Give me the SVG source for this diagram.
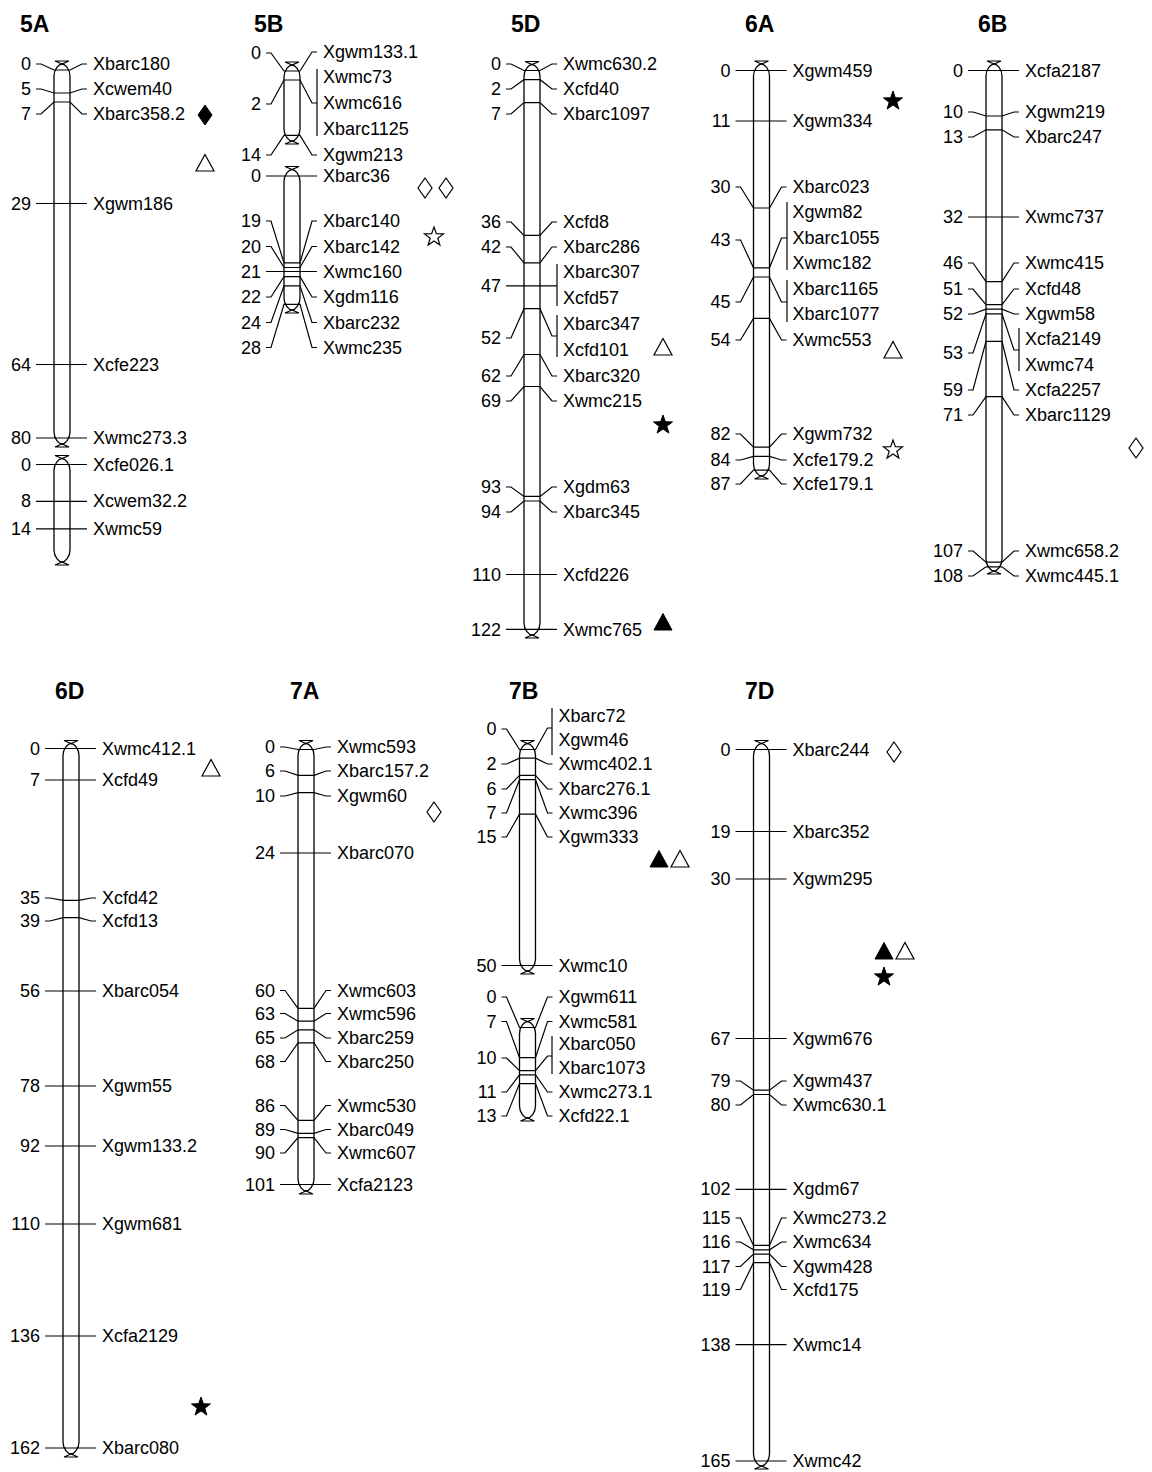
<svg xmlns="http://www.w3.org/2000/svg" xmlns:xlink="http://www.w3.org/1999/xlink" width="1152" height="1472" viewBox="0 0 1152 1472">
<style>
text{font-family:"Liberation Sans",Arial,sans-serif;font-size:18px;fill:#000;dominant-baseline:central}
.n{text-anchor:end}
.h{font-size:23px;font-weight:bold;dominant-baseline:auto}
.t{fill:#fff;stroke:#000;stroke-width:1.3}
.c{fill:none;stroke:#000;stroke-width:1.2}
.m polyline,.m line{fill:none;stroke:#000;stroke-width:1.2}
.o{fill:#fff;stroke:#000;stroke-width:1.2}
.f{fill:#000;stroke:#000;stroke-width:1}
</style>
<defs>
<polygon id="tri" points="0,-8.5 9,8 -9,8"/>
<polygon id="dia" points="0,-10 7,0 0,10 -7,0"/>
<polygon id="star" points="0,-10 2.35,-3.24 9.51,-3.09 3.8,1.24 5.88,8.09 0,4 -5.88,8.09 -3.8,1.24 -9.51,-3.09 -2.35,-3.24"/>
</defs>
<rect width="1152" height="1472" fill="#fff"/>

<g id="chr5A">
<text class="h" x="20" y="32">5A</text>
<path class="t" d="M54,76 C54,69 59,64 62,64 C65,64 70,69 70,76 L70,432 C70,439 65,444 62,444 C59,444 54,439 54,432 Z"/>
<path class="c" d="M62,64 L55,61 L69,61 Z M62,444 L55,447 L69,447 Z"/>
<path class="t" d="M54,470.5 C54,463.5 59,458.5 62,458.5 C65,458.5 70,463.5 70,470.5 L70,550 C70,557 65,562 62,562 C59,562 54,557 54,550 Z"/>
<path class="c" d="M62,458.5 L55,455.5 L69,455.5 Z M62,562 L55,565 L69,565 Z"/>
<g class="m">
<polyline points="36,64 41,64 54,70 70,70 82,64 87,64"/>
<polyline points="36,89 41,89 54,93 70,93 82,89 87,89"/>
<polyline points="36,114 41,114 54,102 70,102 82,114 87,114"/>
<line x1="36" y1="203.5" x2="87" y2="203.5"/>
<line x1="36" y1="364.5" x2="87" y2="364.5"/>
<line x1="36" y1="438" x2="87" y2="438"/>
<line x1="36" y1="464.5" x2="87" y2="464.5"/>
<line x1="36" y1="501.3" x2="87" y2="501.3"/>
<line x1="36" y1="528.9" x2="87" y2="528.9"/>
</g>
<text class="n" x="31" y="64">0</text><text x="93" y="64">Xbarc180</text>
<text class="n" x="31" y="89">5</text><text x="93" y="89">Xcwem40</text>
<text class="n" x="31" y="114">7</text><text x="93" y="114">Xbarc358.2</text>
<text class="n" x="31" y="203.5">29</text><text x="93" y="203.5">Xgwm186</text>
<text class="n" x="31" y="364.5">64</text><text x="93" y="364.5">Xcfe223</text>
<text class="n" x="31" y="438">80</text><text x="93" y="438">Xwmc273.3</text>
<text class="n" x="31" y="465">0</text><text x="93" y="465">Xcfe026.1</text>
<text class="n" x="31" y="501.3">8</text><text x="93" y="501.3">Xcwem32.2</text>
<text class="n" x="31" y="529">14</text><text x="93" y="529">Xwmc59</text>
<use href="#dia" class="f" x="205" y="115"/>
<use href="#tri" class="o" x="205" y="163"/>
</g>

<g id="chr5B">
<text class="h" x="254" y="32">5B</text>
<path class="t" d="M284,77 C284,70 289,65 292,65 C295,65 300,70 300,77 L300,129 C300,136 295,141 292,141 C289,141 284,136 284,129 Z"/>
<path class="c" d="M292,65 L285,62 L299,62 Z M292,141 L285,144 L299,144 Z"/>
<path class="t" d="M284,181.5 C284,174.5 289,169.5 292,169.5 C295,169.5 300,174.5 300,181.5 L300,298 C300,305 295,310 292,310 C289,310 284,305 284,298 Z"/>
<path class="c" d="M292,169.5 L285,166.5 L299,166.5 Z M292,310 L285,313 L299,313 Z"/>
<g class="m">
<polyline points="266,53 271,53 284,71 300,71 312,52 317,52"/>
<polyline points="266,104 271,104 284,80 300,80 312,103 317,103"/>
<line x1="317" y1="69" x2="317" y2="136"/>
<polyline points="266,155 271,155 284,135.4 300,135.4 312,155 317,155"/>
<line x1="266" y1="176" x2="317" y2="176"/>
<polyline points="266,221 271,221 284,262.9 300,262.9 312,221 317,221"/>
<polyline points="266,246.5 271,246.5 284,267.5 300,267.5 312,246.5 317,246.5"/>
<line x1="266" y1="271.5" x2="317" y2="271.5"/>
<polyline points="266,297 271,297 284,276.7 300,276.7 312,297 317,297"/>
<polyline points="266,322.5 271,322.5 284,285.9 300,285.9 312,322.5 317,322.5"/>
<polyline points="266,347.5 271,347.5 284,304.3 300,304.3 312,347.5 317,347.5"/>
</g>
<text class="n" x="261" y="53">0</text><text x="323" y="52">Xgwm133.1</text>
<text x="323" y="77">Xwmc73</text>
<text class="n" x="261" y="104">2</text><text x="323" y="103">Xwmc616</text>
<text x="323" y="129">Xbarc1125</text>
<text class="n" x="261" y="155">14</text><text x="323" y="155">Xgwm213</text>
<text class="n" x="261" y="176">0</text><text x="323" y="176">Xbarc36</text>
<text class="n" x="261" y="221">19</text><text x="323" y="221">Xbarc140</text>
<text class="n" x="261" y="246.5">20</text><text x="323" y="246.5">Xbarc142</text>
<text class="n" x="261" y="271.5">21</text><text x="323" y="271.5">Xwmc160</text>
<text class="n" x="261" y="297">22</text><text x="323" y="297">Xgdm116</text>
<text class="n" x="261" y="322.5">24</text><text x="323" y="322.5">Xbarc232</text>
<text class="n" x="261" y="347.5">28</text><text x="323" y="347.5">Xwmc235</text>
<use href="#dia" class="o" x="425" y="188"/>
<use href="#dia" class="o" x="446" y="188"/>
<use href="#star" class="o" x="434" y="237"/>
</g>

<g id="chr5D">
<text class="h" x="511" y="32">5D</text>
<path class="t" d="M524,76.5 C524,69.5 529,64.5 532,64.5 C535,64.5 540,69.5 540,76.5 L540,623 C540,630 535,635 532,635 C529,635 524,630 524,623 Z"/>
<path class="c" d="M532,64.5 L525,61.5 L539,61.5 Z M532,635 L525,638 L539,638 Z"/>
<g class="m">
<polyline points="506,64 511,64 524,70.5 540,70.5 552,64 557,64"/>
<polyline points="506,89 511,89 524,79.7 540,79.7 552,89 557,89"/>
<polyline points="506,114 511,114 524,102.6 540,102.6 552,114 557,114"/>
<polyline points="506,222 511,222 524,235.4 540,235.4 552,222 557,222"/>
<polyline points="506,247 511,247 524,262.9 540,262.9 552,247 557,247"/>
<line x1="506" y1="285.8" x2="557" y2="285.8"/>
<line x1="557" y1="264" x2="557" y2="306"/>
<polyline points="506,338 511,338 524,308.7 540,308.7 552,336 557,336"/>
<line x1="557" y1="315" x2="557" y2="357"/>
<polyline points="506,376 511,376 524,354.5 540,354.5 552,376 557,376"/>
<polyline points="506,401 511,401 524,386.5 540,386.5 552,401 557,401"/>
<polyline points="506,487 511,487 524,496.4 540,496.4 552,487 557,487"/>
<polyline points="506,512 511,512 524,501 540,501 552,512 557,512"/>
<line x1="506" y1="574.5" x2="557" y2="574.5"/>
<line x1="506" y1="629.3" x2="557" y2="629.3"/>
</g>
<text class="n" x="501" y="64">0</text><text x="563" y="64">Xwmc630.2</text>
<text class="n" x="501" y="89">2</text><text x="563" y="89">Xcfd40</text>
<text class="n" x="501" y="114">7</text><text x="563" y="114">Xbarc1097</text>
<text class="n" x="501" y="222">36</text><text x="563" y="222">Xcfd8</text>
<text class="n" x="501" y="247">42</text><text x="563" y="247">Xbarc286</text>
<text class="n" x="501" y="286">47</text><text x="563" y="272">Xbarc307</text>
<text x="563" y="298">Xcfd57</text>
<text class="n" x="501" y="338">52</text><text x="563" y="324">Xbarc347</text>
<text x="563" y="350">Xcfd101</text>
<text class="n" x="501" y="376">62</text><text x="563" y="376">Xbarc320</text>
<text class="n" x="501" y="401">69</text><text x="563" y="401">Xwmc215</text>
<text class="n" x="501" y="487">93</text><text x="563" y="487">Xgdm63</text>
<text class="n" x="501" y="512">94</text><text x="563" y="512">Xbarc345</text>
<text class="n" x="501" y="575">110</text><text x="563" y="575">Xcfd226</text>
<text class="n" x="501" y="629.5">122</text><text x="563" y="629.5">Xwmc765</text>
<use href="#tri" class="o" x="663" y="347"/>
<use href="#star" class="f" x="663" y="425"/>
<use href="#tri" class="f" x="663" y="622"/>
</g>

<g id="chr6A">
<text class="h" x="745" y="32">6A</text>
<path class="t" d="M753.5,76 C753.5,69 758.5,64 761.5,64 C764.5,64 769.5,69 769.5,76 L769.5,464 C769.5,471 764.5,476 761.5,476 C758.5,476 753.5,471 753.5,464 Z"/>
<path class="c" d="M761.5,64 L754.5,61 L768.5,61 Z M761.5,476 L754.5,479 L768.5,479 Z"/>
<g class="m">
<line x1="735.5" y1="70.5" x2="786.5" y2="70.5"/>
<line x1="735.5" y1="121" x2="786.5" y2="121"/>
<polyline points="735.5,187 740.5,187 753.5,208 769.5,208 781.5,187 786.5,187"/>
<polyline points="735.5,240 740.5,240 753.5,267.8 769.5,267.8 781.5,238 787,238"/>
<line x1="787" y1="202" x2="787" y2="270"/>
<polyline points="735.5,302 740.5,302 753.5,277 769.5,277 781.5,302 787,302"/>
<line x1="787" y1="280" x2="787" y2="322"/>
<polyline points="735.5,340 740.5,340 753.5,318.4 769.5,318.4 781.5,340 786.5,340"/>
<polyline points="735.5,434 740.5,434 753.5,447.2 769.5,447.2 781.5,434 786.5,434"/>
<polyline points="735.5,460 740.5,460 753.5,456.4 769.5,456.4 781.5,460 786.5,460"/>
<polyline points="735.5,484 740.5,484 753.5,470.2 769.5,470.2 781.5,484 786.5,484"/>
</g>
<text class="n" x="730.5" y="71">0</text><text x="792.5" y="71">Xgwm459</text>
<text class="n" x="730.5" y="121">11</text><text x="792.5" y="121">Xgwm334</text>
<text class="n" x="730.5" y="187">30</text><text x="792.5" y="187">Xbarc023</text>
<text x="792.5" y="212">Xgwm82</text>
<text class="n" x="730.5" y="240">43</text><text x="792.5" y="238">Xbarc1055</text>
<text x="792.5" y="263">Xwmc182</text>
<text x="792.5" y="289">Xbarc1165</text>
<text class="n" x="730.5" y="302">45</text><text x="792.5" y="314">Xbarc1077</text>
<text class="n" x="730.5" y="340">54</text><text x="792.5" y="340">Xwmc553</text>
<text class="n" x="730.5" y="434">82</text><text x="792.5" y="434">Xgwm732</text>
<text class="n" x="730.5" y="460">84</text><text x="792.5" y="460">Xcfe179.2</text>
<text class="n" x="730.5" y="484">87</text><text x="792.5" y="484">Xcfe179.1</text>
<use href="#star" class="f" x="893" y="101"/>
<use href="#tri" class="o" x="893" y="350"/>
<use href="#star" class="o" x="893" y="450"/>
</g>

<g id="chr6B">
<text class="h" x="978" y="32">6B</text>
<path class="t" d="M986,76 C986,69 991,64 994,64 C997,64 1002,69 1002,76 L1002,559 C1002,566 997,571 994,571 C991,571 986,566 986,559 Z"/>
<path class="c" d="M994,64 L987,61 L1001,61 Z M994,571 L987,574 L1001,574 Z"/>
<g class="m">
<line x1="968" y1="70.5" x2="1019" y2="70.5"/>
<polyline points="968,112 973,112 986,116 1002,116 1014,112 1019,112"/>
<polyline points="968,137 973,137 986,129.8 1002,129.8 1014,137 1019,137"/>
<line x1="968" y1="217" x2="1019" y2="217"/>
<polyline points="968,263 973,263 986,281.6 1002,281.6 1014,263 1019,263"/>
<polyline points="968,289 973,289 986,304.6 1002,304.6 1014,289 1019,289"/>
<polyline points="968,314 973,314 986,309.2 1002,309.2 1014,314 1019,314"/>
<polyline points="968,353 973,353 986,313.8 1002,313.8 1014,350 1019,350"/>
<line x1="1019" y1="328" x2="1019" y2="371"/>
<polyline points="968,390 973,390 986,341.4 1002,341.4 1014,390 1019,390"/>
<polyline points="968,415 973,415 986,396.6 1002,396.6 1014,415 1019,415"/>
<polyline points="968,551 973,551 986,562.2 1002,562.2 1014,551 1019,551"/>
<polyline points="968,576 973,576 986,566.8 1002,566.8 1014,576 1019,576"/>
</g>
<text class="n" x="963" y="71">0</text><text x="1025" y="71">Xcfa2187</text>
<text class="n" x="963" y="112">10</text><text x="1025" y="112">Xgwm219</text>
<text class="n" x="963" y="137">13</text><text x="1025" y="137">Xbarc247</text>
<text class="n" x="963" y="217">32</text><text x="1025" y="217">Xwmc737</text>
<text class="n" x="963" y="263">46</text><text x="1025" y="263">Xwmc415</text>
<text class="n" x="963" y="289">51</text><text x="1025" y="289">Xcfd48</text>
<text class="n" x="963" y="314">52</text><text x="1025" y="314">Xgwm58</text>
<text x="1025" y="339">Xcfa2149</text>
<text class="n" x="963" y="353">53</text><text x="1025" y="365">Xwmc74</text>
<text class="n" x="963" y="390">59</text><text x="1025" y="390">Xcfa2257</text>
<text class="n" x="963" y="415">71</text><text x="1025" y="415">Xbarc1129</text>
<text class="n" x="963" y="551">107</text><text x="1025" y="551">Xwmc658.2</text>
<text class="n" x="963" y="576">108</text><text x="1025" y="576">Xwmc445.1</text>
<use href="#dia" class="o" x="1136" y="448"/>
</g>

<g id="chr6D">
<text class="h" x="55" y="699">6D</text>
<path class="t" d="M63,755.5 C63,748.5 68,743.5 71,743.5 C74,743.5 79,748.5 79,755.5 L79,1442 C79,1449 74,1454 71,1454 C68,1454 63,1449 63,1442 Z"/>
<path class="c" d="M71,743.5 L64,740.5 L78,740.5 Z M71,1454 L64,1457 L78,1457 Z"/>
<g class="m">
<line x1="45" y1="748.5" x2="96" y2="748.5"/>
<line x1="45" y1="780" x2="96" y2="780"/>
<polyline points="45,898 50,898 63,900.4 79,900.4 91,898 96,898"/>
<polyline points="45,921 50,921 63,917.7 79,917.7 91,921 96,921"/>
<line x1="45" y1="991" x2="96" y2="991"/>
<line x1="45" y1="1086" x2="96" y2="1086"/>
<line x1="45" y1="1146" x2="96" y2="1146"/>
<line x1="45" y1="1224" x2="96" y2="1224"/>
<line x1="45" y1="1336" x2="96" y2="1336"/>
<line x1="45" y1="1448" x2="96" y2="1448"/>
</g>
<text class="n" x="40" y="748.5">0</text><text x="102" y="748.5">Xwmc412.1</text>
<text class="n" x="40" y="780">7</text><text x="102" y="780">Xcfd49</text>
<text class="n" x="40" y="898">35</text><text x="102" y="898">Xcfd42</text>
<text class="n" x="40" y="921">39</text><text x="102" y="921">Xcfd13</text>
<text class="n" x="40" y="991">56</text><text x="102" y="991">Xbarc054</text>
<text class="n" x="40" y="1086">78</text><text x="102" y="1086">Xgwm55</text>
<text class="n" x="40" y="1146">92</text><text x="102" y="1146">Xgwm133.2</text>
<text class="n" x="40" y="1224">110</text><text x="102" y="1224">Xgwm681</text>
<text class="n" x="40" y="1336">136</text><text x="102" y="1336">Xcfa2129</text>
<text class="n" x="40" y="1448">162</text><text x="102" y="1448">Xbarc080</text>
<use href="#tri" class="o" x="211" y="768"/>
<use href="#star" class="f" x="201" y="1407"/>
</g>

<g id="chr7A">
<text class="h" x="290" y="699">7A</text>
<path class="t" d="M298,755.5 C298,748.5 303,743.5 306,743.5 C309,743.5 314,748.5 314,755.5 L314,1179 C314,1186 309,1191 306,1191 C303,1191 298,1186 298,1179 Z"/>
<path class="c" d="M306,743.5 L299,740.5 L313,740.5 Z M306,1191 L299,1194 L313,1194 Z"/>
<g class="m">
<polyline points="280,747 285,747 298,749.5 314,749.5 326,747 331,747"/>
<polyline points="280,771 285,771 298,775.4 314,775.4 326,771 331,771"/>
<polyline points="280,796 285,796 298,792.6 314,792.6 326,796 331,796"/>
<line x1="280" y1="853" x2="331" y2="853"/>
<polyline points="280,990.5 285,990.5 298,1008.3 314,1008.3 326,990.5 331,990.5"/>
<polyline points="280,1013.5 285,1013.5 298,1021.2 314,1021.2 326,1013.5 331,1013.5"/>
<polyline points="280,1038 285,1038 298,1029.8 314,1029.8 326,1038 331,1038"/>
<polyline points="280,1061.5 285,1061.5 298,1042.8 314,1042.8 326,1061.5 331,1061.5"/>
<polyline points="280,1105.5 285,1105.5 298,1120.4 314,1120.4 326,1105.5 331,1105.5"/>
<polyline points="280,1129.5 285,1129.5 298,1133.3 314,1133.3 326,1129.5 331,1129.5"/>
<polyline points="280,1153 285,1153 298,1137.6 314,1137.6 326,1153 331,1153"/>
<line x1="280" y1="1184.5" x2="331" y2="1184.5"/>
</g>
<text class="n" x="275" y="747">0</text><text x="337" y="747">Xwmc593</text>
<text class="n" x="275" y="771">6</text><text x="337" y="771">Xbarc157.2</text>
<text class="n" x="275" y="796">10</text><text x="337" y="796">Xgwm60</text>
<text class="n" x="275" y="853">24</text><text x="337" y="853">Xbarc070</text>
<text class="n" x="275" y="990.5">60</text><text x="337" y="990.5">Xwmc603</text>
<text class="n" x="275" y="1013.5">63</text><text x="337" y="1013.5">Xwmc596</text>
<text class="n" x="275" y="1038">65</text><text x="337" y="1038">Xbarc259</text>
<text class="n" x="275" y="1061.5">68</text><text x="337" y="1061.5">Xbarc250</text>
<text class="n" x="275" y="1105.5">86</text><text x="337" y="1105.5">Xwmc530</text>
<text class="n" x="275" y="1129.5">89</text><text x="337" y="1129.5">Xbarc049</text>
<text class="n" x="275" y="1153">90</text><text x="337" y="1153">Xwmc607</text>
<text class="n" x="275" y="1184.5">101</text><text x="337" y="1184.5">Xcfa2123</text>
<use href="#dia" class="o" x="434" y="812"/>
</g>

<g id="chr7B">
<text class="h" x="509" y="699">7B</text>
<path class="t" d="M519.5,755.5 C519.5,748.5 524.5,743.5 527.5,743.5 C530.5,743.5 535.5,748.5 535.5,755.5 L535.5,959 C535.5,966 530.5,971 527.5,971 C524.5,971 519.5,966 519.5,959 Z"/>
<path class="c" d="M527.5,743.5 L520.5,740.5 L534.5,740.5 Z M527.5,971 L520.5,974 L534.5,974 Z"/>
<path class="t" d="M519.5,1033.5 C519.5,1026.5 524.5,1021.5 527.5,1021.5 C530.5,1021.5 535.5,1026.5 535.5,1033.5 L535.5,1106 C535.5,1113 530.5,1118 527.5,1118 C524.5,1118 519.5,1113 519.5,1106 Z"/>
<path class="c" d="M527.5,1021.5 L520.5,1018.5 L534.5,1018.5 Z M527.5,1118 L520.5,1121 L534.5,1121 Z"/>
<g class="m">
<polyline points="501.5,729 506.5,729 519.5,749.5 535.5,749.5 547.5,728 552,728"/>
<line x1="552" y1="708" x2="552" y2="755"/>
<polyline points="501.5,764 506.5,764 519.5,758.1 535.5,758.1 547.5,764 552.5,764"/>
<polyline points="501.5,789 506.5,789 519.5,775.4 535.5,775.4 547.5,789 552.5,789"/>
<polyline points="501.5,813 506.5,813 519.5,779.7 535.5,779.7 547.5,813 552.5,813"/>
<polyline points="501.5,837 506.5,837 519.5,814.2 535.5,814.2 547.5,837 552.5,837"/>
<line x1="501.5" y1="965.5" x2="552.5" y2="965.5"/>
<polyline points="501.5,997 506.5,997 519.5,1027.5 535.5,1027.5 547.5,997 552.5,997"/>
<polyline points="501.5,1021.5 506.5,1021.5 519.5,1057.7 535.5,1057.7 547.5,1021.5 552.5,1021.5"/>
<polyline points="501.5,1058 506.5,1058 519.5,1070.6 535.5,1070.6 547.5,1056 552,1056"/>
<line x1="552" y1="1036" x2="552" y2="1074"/>
<polyline points="501.5,1092 506.5,1092 519.5,1074.9 535.5,1074.9 547.5,1092 552.5,1092"/>
<polyline points="501.5,1116 506.5,1116 519.5,1083.6 535.5,1083.6 547.5,1116 552.5,1116"/>
</g>
<text x="558.5" y="716">Xbarc72</text>
<text class="n" x="496.5" y="729">0</text><text x="558.5" y="740">Xgwm46</text>
<text class="n" x="496.5" y="764">2</text><text x="558.5" y="764">Xwmc402.1</text>
<text class="n" x="496.5" y="789">6</text><text x="558.5" y="789">Xbarc276.1</text>
<text class="n" x="496.5" y="813">7</text><text x="558.5" y="813">Xwmc396</text>
<text class="n" x="496.5" y="837">15</text><text x="558.5" y="837">Xgwm333</text>
<text class="n" x="496.5" y="965.5">50</text><text x="558.5" y="965.5">Xwmc10</text>
<text class="n" x="496.5" y="997">0</text><text x="558.5" y="997">Xgwm611</text>
<text class="n" x="496.5" y="1021.5">7</text><text x="558.5" y="1021.5">Xwmc581</text>
<text x="558.5" y="1044">Xbarc050</text>
<text class="n" x="496.5" y="1058">10</text><text x="558.5" y="1068">Xbarc1073</text>
<text class="n" x="496.5" y="1092">11</text><text x="558.5" y="1092">Xwmc273.1</text>
<text class="n" x="496.5" y="1116">13</text><text x="558.5" y="1116">Xcfd22.1</text>
<use href="#tri" class="f" x="659" y="859"/>
<use href="#tri" class="o" x="680" y="859"/>
</g>

<g id="chr7D">
<text class="h" x="745" y="699">7D</text>
<path class="t" d="M753.5,755.5 C753.5,748.5 758.5,743.5 761.5,743.5 C764.5,743.5 769.5,748.5 769.5,755.5 L769.5,1454 C769.5,1461 764.5,1466 761.5,1466 C758.5,1466 753.5,1461 753.5,1454 Z"/>
<path class="c" d="M761.5,743.5 L754.5,740.5 L768.5,740.5 Z M761.5,1466 L754.5,1469 L768.5,1469 Z"/>
<g class="m">
<line x1="735.5" y1="749.5" x2="786.5" y2="749.5"/>
<line x1="735.5" y1="831.5" x2="786.5" y2="831.5"/>
<line x1="735.5" y1="879" x2="786.5" y2="879"/>
<line x1="735.5" y1="1038.5" x2="786.5" y2="1038.5"/>
<polyline points="735.5,1081 740.5,1081 753.5,1090.2 769.5,1090.2 781.5,1081 786.5,1081"/>
<polyline points="735.5,1105 740.5,1105 753.5,1094.5 769.5,1094.5 781.5,1105 786.5,1105"/>
<line x1="735.5" y1="1189.4" x2="786.5" y2="1189.4"/>
<polyline points="735.5,1218 740.5,1218 753.5,1245.4 769.5,1245.4 781.5,1218 786.5,1218"/>
<polyline points="735.5,1242 740.5,1242 753.5,1249.8 769.5,1249.8 781.5,1242 786.5,1242"/>
<polyline points="735.5,1266.5 740.5,1266.5 753.5,1254.1 769.5,1254.1 781.5,1266.5 786.5,1266.5"/>
<polyline points="735.5,1289.5 740.5,1289.5 753.5,1262.7 769.5,1262.7 781.5,1289.5 786.5,1289.5"/>
<line x1="735.5" y1="1344.6" x2="786.5" y2="1344.6"/>
<line x1="735.5" y1="1461" x2="786.5" y2="1461"/>
</g>
<text class="n" x="730.5" y="749.5">0</text><text x="792.5" y="749.5">Xbarc244</text>
<text class="n" x="730.5" y="831.5">19</text><text x="792.5" y="831.5">Xbarc352</text>
<text class="n" x="730.5" y="879">30</text><text x="792.5" y="879">Xgwm295</text>
<text class="n" x="730.5" y="1038.5">67</text><text x="792.5" y="1038.5">Xgwm676</text>
<text class="n" x="730.5" y="1081">79</text><text x="792.5" y="1081">Xgwm437</text>
<text class="n" x="730.5" y="1105">80</text><text x="792.5" y="1105">Xwmc630.1</text>
<text class="n" x="730.5" y="1189.4">102</text><text x="792.5" y="1189.4">Xgdm67</text>
<text class="n" x="730.5" y="1218">115</text><text x="792.5" y="1218">Xwmc273.2</text>
<text class="n" x="730.5" y="1242">116</text><text x="792.5" y="1242">Xwmc634</text>
<text class="n" x="730.5" y="1266.5">117</text><text x="792.5" y="1266.5">Xgwm428</text>
<text class="n" x="730.5" y="1289.5">119</text><text x="792.5" y="1289.5">Xcfd175</text>
<text class="n" x="730.5" y="1344.6">138</text><text x="792.5" y="1344.6">Xwmc14</text>
<text class="n" x="730.5" y="1461">165</text><text x="792.5" y="1461">Xwmc42</text>
<use href="#dia" class="o" x="894" y="752"/>
<use href="#tri" class="f" x="884" y="951"/>
<use href="#tri" class="o" x="905" y="951"/>
<use href="#star" class="f" x="884" y="977"/>
</g>
</svg>
